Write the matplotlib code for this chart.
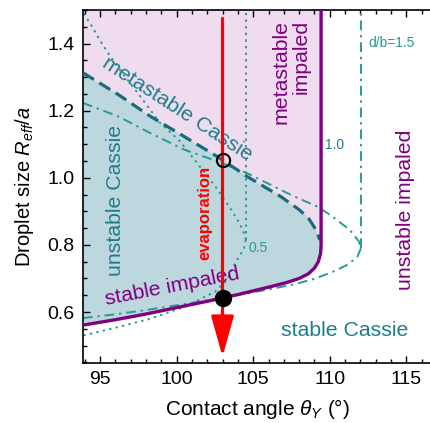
import matplotlib
matplotlib.use("Agg")
import matplotlib.pyplot as plt
from matplotlib.ticker import MultipleLocator

plt.rcParams['font.family'] = ['Liberation Sans', 'DejaVu Sans']
plt.rcParams['mathtext.fontset'] = 'custom'
plt.rcParams['mathtext.it'] = 'Liberation Sans:italic'
plt.rcParams['mathtext.rm'] = 'Liberation Sans'

# d/b = 1.0 : impaled boundary (solid purple)
theta_imp = [93.9, 96, 98, 100, 102, 103, 104, 106, 107.2, 108.0, 108.6, 109.0, 109.25, 109.4, 109.43, 109.43]
r_imp = [0.561, 0.577, 0.594, 0.613, 0.632, 0.642, 0.652, 0.674, 0.688, 0.700, 0.714, 0.731, 0.75, 0.775, 0.80, 1.5]

# d/b = 1.0 : metastable Cassie boundary (thick dashed)
theta_cas = [93.9, 96.2, 98.3, 100.5, 102.7, 104.6, 106.8, 108.0, 108.6, 109.1, 109.35]
r_cas = [1.313, 1.248, 1.183, 1.123, 1.062, 1.004, 0.944, 0.905, 0.88, 0.845, 0.815]

# d/b = 0.5 (dotted)
theta_05_up = [93.95, 94.5, 95.0, 95.7, 96.5, 97.6, 98.9, 100.2, 101.5, 102.6, 103.5, 104.1, 104.4, 104.52]
r_05_up = [1.49, 1.45, 1.41, 1.36, 1.31, 1.245, 1.165, 1.11, 1.035, 0.97, 0.91, 0.865, 0.835, 0.815]
theta_05_lo = [104.52, 104.4, 103.7, 103.3, 102.5, 100.5, 98.3, 96.0, 93.9]
r_05_lo = [0.815, 0.79, 0.735, 0.695, 0.66, 0.615, 0.58, 0.553, 0.53]
theta_05_v = [104.52, 104.52]
r_05_v = [0.815, 1.5]

# d/b = 1.5 (dash-dot)
theta_15_up = [93.9, 96.2, 98.3, 100.5, 102.6, 104.6, 106.8, 107.7, 109.2, 110.0, 111.3, 111.9, 112.03]
r_15_up = [1.223, 1.183, 1.133, 1.084, 1.05, 1.014, 0.964, 0.944, 0.914, 0.89, 0.845, 0.81, 0.79]
theta_15_lo = [112.03, 111.8, 111.2, 110.2, 109.0, 107.7, 106.0, 104.0, 102.0, 100.0, 98.0, 96.0, 93.9]
r_15_lo = [0.79, 0.765, 0.742, 0.72, 0.699, 0.683, 0.667, 0.651, 0.635, 0.62, 0.606, 0.593, 0.582]
theta_15_v = [112.03, 112.03]
r_15_v = [0.79, 1.5]

# evaporation path
theta_evap = 103.0
r_start, r_end = 1.475, 0.467
r_open = 1.053
r_filled = 0.642

purple = '#800080'
teal = '#1f7d8c'
teal_thin = '#2a9a94'
teal_dark = '#1b6b7e'

fig = plt.figure(figsize=(4.31, 4.23), dpi=100)
ax = fig.add_axes([0.1926, 0.1418, 0.8074, 0.8345])

# shaded regions
ax.fill(theta_imp + [93.9], r_imp + [1.5], color='#efdcef', lw=0, zorder=1)
ax.fill(theta_imp[:-1] + theta_cas[::-1], r_imp[:-1] + r_cas[::-1], color='#bcd8de', lw=0, zorder=1.5)

# thin curves
dot = (0, (1.2, 2.2))
ax.plot(theta_05_up, r_05_up, ls=dot, color=teal_thin, lw=1.4, zorder=2)
ax.plot(theta_05_lo, r_05_lo, ls=dot, color=teal_thin, lw=1.4, zorder=2)
ax.plot(theta_05_v, r_05_v, ls=dot, color=teal_thin, lw=1.4, zorder=2)
dd = (0, (5, 2.5, 1.2, 2.5))
ax.plot(theta_15_up, r_15_up, ls=dd, color=teal_thin, lw=1.4, zorder=2)
ax.plot(theta_15_lo, r_15_lo, ls=dd, color=teal_thin, lw=1.4, zorder=2)
ax.plot(theta_15_v, r_15_v, ls=dd, color=teal_thin, lw=1.4, zorder=2)

# thick curves
ax.plot(theta_cas, r_cas, ls=(0, (4, 2)), color=teal_dark, lw=2.3, zorder=3)
ax.plot(theta_imp, r_imp, color=purple, lw=2.4, zorder=3, solid_joinstyle='round')

# evaporation arrow
ax.annotate('', xy=(theta_evap, r_end), xytext=(theta_evap, r_start),
            arrowprops=dict(arrowstyle='-|>,head_length=1.25,head_width=0.35',
                            mutation_scale=20, color='red', lw=2.3,
                            shrinkA=0, shrinkB=0), zorder=4)
ax.plot([theta_evap], [r_open], 'o', ms=9.5, mfc='none', mec='black', mew=1.5, zorder=5)
ax.plot([theta_evap], [r_filled], 'o', ms=11.5, color='black', zorder=5)

# labels
fs = 15.3
ax.text(100.05, 1.205, 'metastable Cassie', color=teal, fontsize=fs, rotation=-33,
        ha='center', va='center', rotation_mode='anchor')
ax.text(96.0, 0.934, 'unstable Cassie', color=teal, fontsize=fs, rotation=90,
        ha='center', va='center')
ax.text(101.85, 0.895, 'evaporation', color='red', fontsize=12, fontweight='bold',
        rotation=90, ha='center', va='center')
ax.text(99.75, 0.675, 'stable impaled', color=purple, fontsize=fs, rotation=11,
        ha='center', va='center', rotation_mode='anchor')
ax.text(107.5, 1.315, 'metastable\nimpaled', color=purple, fontsize=fs, rotation=90,
        ha='center', va='center', multialignment='right', linespacing=1.08)
ax.text(114.95, 0.905, 'unstable impaled', color=purple, fontsize=fs, rotation=90,
        ha='center', va='center')
ax.text(111.0, 0.546, 'stable Cassie', color=teal, fontsize=fs, ha='center', va='center')
ax.text(112.5, 1.403, 'd/b=1.5', color=teal_thin, fontsize=10, ha='left', va='center')
ax.text(109.7, 1.099, '1.0', color=teal, fontsize=10, ha='left', va='center')
ax.text(104.7, 0.79, '0.5', color=teal_thin, fontsize=10, ha='left', va='center')

ax.set_xlim(93.9, 116.6)
ax.set_ylim(0.448, 1.5)
ax.xaxis.set_major_locator(MultipleLocator(5))
ax.xaxis.set_minor_locator(MultipleLocator(1))
ax.yaxis.set_minor_locator(MultipleLocator(0.05))
ax.set_yticks([0.6, 0.8, 1.0, 1.2, 1.4])
ax.yaxis.set_major_formatter(plt.FuncFormatter(lambda v, p: '%.1f' % v))
ax.tick_params(which='both', direction='in', top=True, right=False, labelsize=14,
               width=1.0, pad=6)
ax.tick_params(which='major', length=5)
ax.tick_params(which='minor', length=3)
ax.spines['right'].set_visible(False)
for s in ['left', 'top', 'bottom']:
    ax.spines[s].set_linewidth(1.2)

ax.set_xlabel(r'Contact angle $\theta_Y$ ($\degree$)', fontsize=15, labelpad=6)
ax.set_ylabel(r'Droplet size $R_{eff}/a$', fontsize=14.5, labelpad=8)

fig.savefig('out.png', dpi=100)
